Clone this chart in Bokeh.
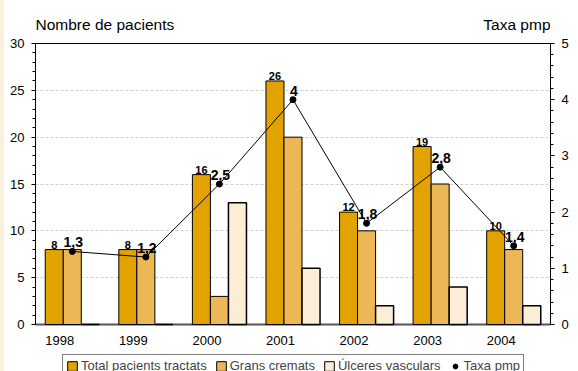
from bokeh.plotting import figure
from bokeh.models import (Range1d, LinearAxis, SingleIntervalTicker, FixedTicker,
                          ColumnDataSource, Legend, LegendItem, Spacer)
from bokeh.layouts import row, column
from bokeh.core.properties import value
from bokeh.embed import file_html
from bokeh.resources import INLINE

years = ["1998", "1999", "2000", "2001", "2002", "2003", "2004"]
total = [8, 8, 16, 26, 12, 19, 10]
grans = [8, 8, 3, 20, 10, 15, 8]
ulceres = [0, 0, 13, 6, 2, 4, 2]
taxa = [1.3, 1.2, 2.5, 4, 1.8, 2.8, 1.4]
left_title = "Nombre de pacients"
right_title = "Taxa pmp"
series_names = ["Total pacients tractats", "Grans cremats", "Úlceres vasculars", "Taxa pmp"]

FONT = "Liberation Sans"
C_TOTAL = "#E2A300"
C_GRANS = "#EBB855"
C_ULC = "#FBEDD6"

W = 574
BL, BR = 31, 28          # left / right borders (shared by all stacked figures)
FW = W - BL - BR         # frame width
n = len(years)
xc = [i + 0.5 for i in range(n)]
bw = 0.245

src = ColumnDataSource(dict(
    x_t=[x - bw for x in xc], x_g=xc, x_u=[x + bw for x in xc], xc=xc,
    total=total, grans=grans, ulceres=ulceres, taxa=taxa,
    total_lbl=[str(v) for v in total],
    taxa_lbl=[str(v).replace(".", ",") if v != int(v) else str(int(v)) for v in taxa],
))

# ---- title strip ----
tf = figure(width=W, height=33, x_range=Range1d(0, FW), y_range=Range1d(0, 33),
            x_axis_type=None, y_axis_type=None,
            output_backend="svg", toolbar_location=None,
            min_border_left=BL, min_border_right=BR, min_border_top=0, min_border_bottom=0)
tf.grid.visible = False
tf.outline_line_color = None
tf.text(x=[0], y=[1], text=[left_title], text_font=value(FONT), text_font_size="15.5px",
        text_baseline="bottom", text_align="left", text_color="black")
tf.text(x=[FW], y=[1], text=[right_title], text_font=value(FONT), text_font_size="15.5px",
        text_baseline="bottom", text_align="right", text_color="black")

# ---- main chart ----
p = figure(width=W, height=319, x_range=Range1d(0, n), y_range=Range1d(0, 30),
           output_backend="svg", toolbar_location=None,
           min_border_left=BL, min_border_right=BR, min_border_top=10, min_border_bottom=28)
p.extra_y_ranges = {"right": Range1d(0, 5)}
p.outline_line_color = "black"
p.outline_line_width = 1
p.background_fill_color = "white"
p.border_fill_color = "white"

p.xgrid.visible = False
p.ygrid.ticker = SingleIntervalTicker(interval=5)
p.ygrid.grid_line_color = "#cfcfcf"
p.ygrid.grid_line_dash = "3 2"

def style_y(ax):
    ax.axis_line_color = "black"
    ax.major_tick_in = 0
    ax.major_tick_out = 4
    ax.minor_tick_in = 0
    ax.minor_tick_out = 3
    ax.major_tick_line_color = "black"
    ax.minor_tick_line_color = "black"
    ax.major_label_standoff = 7
    ax.major_label_text_font = FONT
    ax.major_label_text_font_size = "13px"
    ax.major_label_text_color = "black"

ya = p.yaxis[0]
ya.ticker = SingleIntervalTicker(interval=5, num_minor_ticks=5)
style_y(ya)

ra = LinearAxis(y_range_name="right", ticker=SingleIntervalTicker(interval=1, num_minor_ticks=5))
style_y(ra)
p.add_layout(ra, "right")

xa = p.xaxis[0]
tick_pos = [x - 0.17 for x in xc]
xa.ticker = FixedTicker(ticks=tick_pos)
xa.major_label_overrides = {t: y for t, y in zip(tick_pos, years)}
xa.major_tick_in = 0
xa.major_tick_out = 0
xa.minor_tick_out = 0
xa.axis_line_color = "#555555"
xa.axis_line_width = 2
xa.major_label_standoff = 11
xa.major_label_text_font = FONT
xa.major_label_text_font_size = "13px"
xa.major_label_text_color = "black"

rs = []
rs.append(p.vbar(x="x_t", top="total", width=bw, bottom=0, source=src,
                 fill_color=C_TOTAL, line_color="black", line_width=1))
rs.append(p.vbar(x="x_g", top="grans", width=bw, bottom=0, source=src,
                 fill_color=C_GRANS, line_color="black", line_width=1))
rs.append(p.vbar(x="x_u", top="ulceres", width=bw, bottom=0, source=src,
                 fill_color=C_ULC, line_color="black", line_width=1.5))
rs.append(p.text(x="x_t", y="total", text="total_lbl", source=src, text_align="center",
                 text_baseline="bottom", y_offset=-1, text_font=value(FONT),
                 text_font_size="11px", text_font_style="bold", text_color="black"))
rs.append(p.line(x="xc", y="taxa", source=src, y_range_name="right",
                 line_color="black", line_width=1))
rs.append(p.scatter(x="xc", y="taxa", source=src, y_range_name="right", size=6,
                    fill_color="black", line_color="black"))
rs.append(p.text(x="xc", y="taxa", text="taxa_lbl", source=src, y_range_name="right",
                 text_align="center", text_baseline="bottom", y_offset=-4, x_offset=1,
                 text_font=value(FONT), text_font_size="14px", text_font_style="bold",
                 text_color="black"))
for r in rs:
    r.level = "overlay"

# ---- legend strip ----
lf = figure(width=W, height=19, x_range=Range1d(0, 1), y_range=Range1d(0, 1),
            x_axis_type=None, y_axis_type=None,
            output_backend="svg", toolbar_location=None,
            min_border_left=BL, min_border_right=BR, min_border_top=0, min_border_bottom=0)
lf.grid.visible = False
lf.outline_line_color = None
off = ColumnDataSource(dict(x=[-10], y=[-10]))
l_t = lf.vbar(x="x", top="y", width=0.1, source=off, fill_color=C_TOTAL, line_color="black")
l_g = lf.vbar(x="x", top="y", width=0.1, source=off, fill_color=C_GRANS, line_color="black")
l_u = lf.vbar(x="x", top="y", width=0.1, source=off, fill_color=C_ULC, line_color="black")
l_s = lf.scatter(x="x", y="y", source=off, size=6, fill_color="black", line_color="black")

legend = Legend(items=[LegendItem(label=lab, renderers=[r])
                       for lab, r in zip(series_names, [l_t, l_g, l_u, l_s])],
                location=(27, -6), orientation="horizontal")
legend.label_text_font = FONT
legend.label_text_font_size = "13px"
legend.glyph_width = 12
legend.glyph_height = 12
legend.label_standoff = 3
legend.spacing = 8
legend.padding = 3
legend.margin = 0
legend.border_line_color = "black"
legend.border_line_width = 1
legend.background_fill_alpha = 1
lf.add_layout(legend)

strip = Spacer(width=4, height=371, styles={"background-color": "#FBF0DC"})
layout = row(strip, column(tf, p, lf, spacing=0), spacing=0)

open("out.html", "w").write(file_html(layout, INLINE))
